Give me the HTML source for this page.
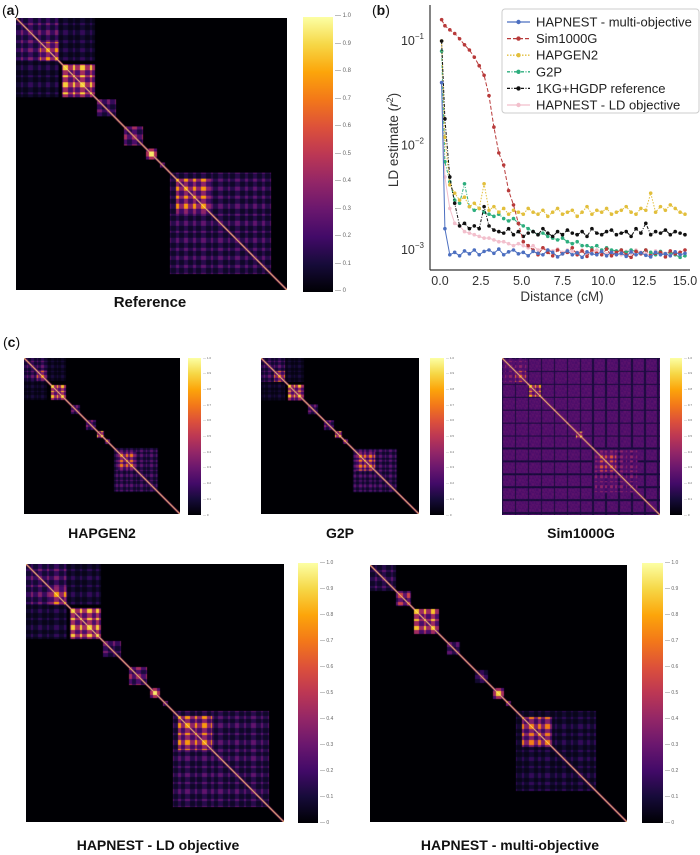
<!DOCTYPE html>
<html><head><meta charset="utf-8">
<style>
body{margin:0;background:#fff;}
#root{position:relative;width:700px;height:855px;overflow:hidden;font-family:"Liberation Sans",sans-serif;background:#fff;}
.lbl{position:absolute;font-weight:bold;color:#111;text-align:center;white-space:nowrap;transform:translateX(-50%);}
.pl{position:absolute;font-size:14px;color:#111;}
canvas{position:absolute;}
.cb{position:absolute;}
.ct{position:absolute;font-size:6px;color:#666;}
</style></head>
<body>
<div id="root">
<div class="pl" style="left:2px;top:2px">(<b>a</b>)</div>
<div class="pl" style="left:372px;top:2px">(<b>b</b>)</div>
<div class="pl" style="left:3px;top:334px">(<b>c</b>)</div>

<div class="lbl" style="left:150px;top:294px;font-size:15px">Reference</div>
<div class="lbl" style="left:102px;top:525px;font-size:14px">HAPGEN2</div>
<div class="lbl" style="left:340px;top:525px;font-size:14px">G2P</div>
<div class="lbl" style="left:581px;top:525px;font-size:14px">Sim1000G</div>
<div class="lbl" style="left:158px;top:837px;font-size:14px">HAPNEST - LD objective</div>
<div class="lbl" style="left:510px;top:837px;font-size:14px">HAPNEST - multi-objective</div>

<svg id="ldchart" width="700" height="320" style="position:absolute;left:0;top:0"></svg>
</div>
<script>
// ---------- Panel (b) data ----------
const dist = [0.1,0.3,0.6,0.9,1.2,1.5,1.8,2.1,2.4,2.7,3.0,3.3,3.6,3.9,4.2,4.5,4.8,5.1,5.4,5.7,6.0,6.3,6.6,6.9,7.2,7.5,7.8,8.1,8.4,8.7,9.0,9.3,9.6,9.9,10.2,10.5,10.8,11.1,11.4,11.7,12.0,12.3,12.6,12.9,13.2,13.5,13.8,14.1,14.4,14.7,15.0];
// values in units of 1e-3
const multiVals = [40,1.6,0.9,0.95,0.88,0.98,0.92,1.0,0.9,0.97,1.0,0.93,1.02,0.9,0.96,1.0,0.92,0.95,0.88,0.97,0.93,0.9,1.0,0.95,0.86,0.92,0.98,0.9,0.94,0.85,0.96,0.92,0.9,0.97,0.88,0.95,0.9,0.93,0.87,0.96,0.9,0.94,0.89,0.86,0.95,0.9,0.92,0.88,0.96,0.9,0.93];
const simVals = [160,140,128,118,105,92,82,70,58,47,30,15,8.5,6.5,3.7,2.7,1.8,1.2,1.1,1.0,0.9,1.05,0.95,0.88,1.0,0.92,0.95,1.05,0.9,0.98,0.87,1.0,0.93,0.9,1.02,0.88,0.95,1.0,0.9,0.85,0.97,0.92,1.0,0.88,0.93,0.95,0.86,0.98,0.92,0.95,1.0];
const hapgenVals = [100,12,4.2,3.5,3.0,3.2,2.6,2.8,2.5,4.3,2.4,2.6,2.3,2.5,2.2,2.4,2.3,2.2,2.5,2.3,2.2,2.4,2.1,2.3,2.5,2.2,2.3,2.4,2.1,2.3,2.6,2.2,2.4,2.3,2.5,2.2,2.3,2.4,2.6,2.3,2.2,2.5,2.4,3.5,2.3,2.6,2.4,2.7,2.5,2.3,2.2];
const g2pVals = [80,7,4.5,3.0,2.8,4.3,2.6,2.4,2.5,2.3,2.2,2.1,2.2,2.0,1.9,2.0,1.8,1.7,1.6,1.5,1.4,1.45,1.35,1.3,1.25,1.3,1.2,1.15,1.2,1.1,1.1,1.05,1.1,1.0,1.05,1.0,0.98,1.0,0.95,1.0,0.97,0.93,1.0,0.95,0.9,0.97,0.92,0.95,0.9,0.85,0.88];
const kgVals = [100,18,5,2.8,1.7,1.8,1.6,1.7,1.6,2.6,1.7,1.55,1.5,1.45,1.6,1.4,1.5,1.35,1.45,1.5,1.4,1.6,1.45,1.35,1.5,1.4,1.55,1.45,1.4,1.5,1.35,1.6,1.45,1.4,1.5,1.55,1.4,1.45,1.5,1.35,1.6,1.45,1.8,1.4,1.5,1.45,1.55,1.4,1.5,1.45,1.4];
const ldVals = [40,5,2.5,1.8,1.7,1.5,1.45,1.4,1.35,1.3,1.3,1.25,1.2,1.2,1.15,1.1,1.15,1.1,1.05,1.1,1.0,1.05,1.0,0.98,1.02,0.95,1.0,0.97,0.95,1.0,0.93,0.97,1.0,0.95,0.92,0.98,0.95,0.9,0.97,0.93,1.0,0.95,0.92,0.9,0.98,0.95,0.93,0.97,0.92,0.95,1.0];
const seriesNames = ["HAPNEST - multi-objective","Sim1000G","HAPGEN2","G2P","1KG+HGDP reference","HAPNEST - LD objective"];
const xTicks = [0,2.5,5,7.5,10,12.5,15];
const xTickLabels = ["0.0","2.5","5.0","7.5","10.0","12.5","15.0"];
const yTicks = [-1,-2,-3];

const NS="http://www.w3.org/2000/svg";
const svg=document.getElementById('ldchart');
function mk(t,a){const e=document.createElementNS(NS,t);for(const k in a)e.setAttribute(k,a[k]);return e;}
function xs(v){return 440+v*(245/15);}
function ys(v1e3){return 250-(Math.log10(v1e3*1e-3)+3)*104.5;}

let e=mk('line',{x1:430,y1:5,x2:430,y2:270,stroke:'#333','stroke-width':1.2});
svg.appendChild(e);
e=mk('line',{x1:430,y1:270,x2:690,y2:270,stroke:'#333','stroke-width':1.2});
svg.appendChild(e);
xTicks.forEach((t,i)=>{
  const tx=mk('text',{x:xs(t),y:285,'font-size':12.5,'text-anchor':'middle',fill:'#333','font-family':'Liberation Sans'});
  tx.textContent=xTickLabels[i];
  svg.appendChild(tx);
});
yTicks.forEach(p=>{
  const y=ys(Math.pow(10,p+3));
  const tx=mk('text',{x:424,y:y+4,'font-size':12.5,'text-anchor':'end',fill:'#333','font-family':'Liberation Sans'});
  tx.innerHTML='10<tspan dy="-6" font-size="8">\u2212'+(-p)+'</tspan>';
  svg.appendChild(tx);
});
e=mk('text',{x:0,y:0,'font-size':13.5,'text-anchor':'middle',fill:'#333','font-family':'Liberation Sans',transform:'translate(398,140) rotate(-90)'});
e.innerHTML='LD estimate (<tspan font-style="italic">r</tspan><tspan dy="-5" font-size="9">2</tspan><tspan dy="5">)</tspan>';
svg.appendChild(e);
e=mk('text',{x:562,y:301,'font-size':13.5,'text-anchor':'middle',fill:'#333','font-family':'Liberation Sans'});
e.textContent='Distance (cM)';
svg.appendChild(e);

const seriesData=[multiVals,simVals,hapgenVals,g2pVals,kgVals,ldVals];
const styles=[
 {c:'#4c6fc0',d:'none'},{c:'#b83a3a',d:'4,2'},{c:'#e2bf3c',d:'1.5,1.5'},
 {c:'#2eae7e',d:'3,1.5,1,1.5'},{c:'#111',d:'3,1.5,1,1.5'},{c:'#f2bfcc',d:'none'}];
const order=[5,3,2,4,1,0];
order.forEach(si=>{
  const vals=seriesData[si],st=styles[si];
  const g=mk('g',{});
  
  
  const pts=vals.map((v,i)=>xs(dist[i]).toFixed(1)+','+ys(v).toFixed(1)).join(' ');
  g.appendChild(mk('polyline',{points:pts,fill:'none',stroke:st.c,'stroke-width':1,'stroke-dasharray':st.d}));
  vals.forEach((v,i)=>{
    const c=mk('circle',{cx:xs(dist[i]),cy:ys(v),r:1.8,fill:st.c});
    
    g.appendChild(c);
  });
  svg.appendChild(g);
});
// legend
const lg=mk('g',{});
lg.appendChild(mk('rect',{x:502,y:9,width:197,height:104,rx:3,fill:'#fff','fill-opacity':0.92,stroke:'#ccc'}));
seriesNames.forEach((n,i)=>{
  const y=22+i*16.6,st=styles[i];
  const row=mk('g',{});
  row.appendChild(mk('line',{x1:507,y1:y,x2:530,y2:y,stroke:st.c,'stroke-width':1.3,'stroke-dasharray':st.d}));
  row.appendChild(mk('circle',{cx:518.5,cy:y,r:2.2,fill:st.c}));
  const t=mk('text',{x:536,y:y+4.5,'font-size':13,fill:'#222','font-family':'Liberation Sans'});t.textContent=n;
  row.appendChild(t);lg.appendChild(row);
});
svg.appendChild(lg);

// ---------- Heatmaps ----------
const infernoStops=[[0,0,0,4],[0.1,22,11,57],[0.2,66,10,104],[0.3,106,23,110],[0.4,147,38,103],[0.5,188,55,84],[0.6,221,81,58],[0.7,243,120,25],[0.8,252,165,10],[0.9,246,215,70],[1,252,255,164]];
function inferno(v){v=Math.max(0,Math.min(1,v));for(let k=1;k<infernoStops.length;k++){const a=infernoStops[k-1],b=infernoStops[k];if(v<=b[0]){const t=(v-a[0])/(b[0]-a[0]);return [a[1]+t*(b[1]-a[1]),a[2]+t*(b[2]-a[2]),a[3]+t*(b[3]-a[3])].map(Math.round);}}return [252,255,164];}

// blocks: [rowStart,rowEnd,colStart,colEnd,value] in fractions
const refBlocks=[[0,0.16,0,0.16,0.32],[0,0.16,0.16,0.29,0.15],[0.16,0.29,0,0.16,0.15],[0.09,0.16,0.09,0.16,0.72],[0.17,0.29,0.17,0.29,0.8],[0.30,0.36,0.30,0.37,0.3],[0.40,0.47,0.40,0.47,0.4],[0.48,0.52,0.48,0.52,0.85],[0.53,0.55,0.53,0.55,0.6],[0.57,0.94,0.57,0.94,0.25],[0.59,0.72,0.59,0.72,0.7]];
const hapgenBlocks=[[0,0.15,0,0.15,0.28],[0,0.15,0.15,0.27,0.1],[0.15,0.27,0,0.15,0.1],[0.08,0.15,0.08,0.15,0.65],[0.17,0.27,0.17,0.27,0.78],[0.30,0.36,0.30,0.36,0.3],[0.40,0.46,0.40,0.46,0.35],[0.47,0.51,0.47,0.51,0.8],[0.52,0.55,0.52,0.55,0.6],[0.58,0.86,0.58,0.86,0.25],[0.60,0.72,0.60,0.72,0.65]];
const g2pBlocks=hapgenBlocks;
const simBlocks=[[0,0.16,0,0.16,0.35],[0.08,0.15,0.08,0.15,0.6],[0.17,0.25,0.17,0.25,0.75],[0.47,0.51,0.47,0.51,0.8],[0.58,0.86,0.58,0.86,0.35],[0.60,0.72,0.60,0.72,0.55]];
const ldBlocks=refBlocks;
const multiBlocks=[[0,0.10,0,0.10,0.25],[0.10,0.16,0.10,0.16,0.5],[0.17,0.27,0.17,0.27,0.78],[0.30,0.35,0.30,0.35,0.25],[0.41,0.46,0.41,0.46,0.3],[0.48,0.52,0.48,0.52,0.8],[0.53,0.55,0.53,0.55,0.55],[0.57,0.88,0.57,0.88,0.15],[0.59,0.71,0.59,0.71,0.65]];
const simBackground=0.27;

function drawHeat(name,x,y,w,h,blocks,bg,cbx,cbw,cby,cbh,tickSize){
  const N=Math.round(w),G=110;
  const cv=document.createElement('canvas');cv.width=N;cv.height=N;
  cv.style.left=x+'px';cv.style.top=y+'px';cv.style.width=w+'px';cv.style.height=h+'px';
  
  
  const ctx=cv.getContext('2d');const img=ctx.createImageData(N,N);
  for(let pi=0;pi<N;pi++)for(let pj=0;pj<N;pj++){
    const r=(pi+0.5)/N,c=(pj+0.5)/N;
    const i=Math.floor(r*G),j=Math.floor(c*G);
    const a=((i*37+11)%7<3)?1:0.5, b=((j*37+11)%7<3)?1:0.5;
    let v=bg*(((i*13)%9===0||(j*13)%9===0)?0.45:1)*(0.8+0.2*((i*5+j*3)%7)/6);
    for(const bl of blocks){if(r>=bl[0]&&r<bl[1]&&c>=bl[2]&&c<bl[3]){v=Math.max(v,bl[4]*a*b*1.1);}}
    const d=Math.abs(pi-pj);
    if(d===0)v=0.95;else if(d===1)v=Math.max(v,0.4);
    const col=inferno(v),p=(pi*N+pj)*4;
    img.data[p]=col[0];img.data[p+1]=col[1];img.data[p+2]=col[2];img.data[p+3]=255;
  }
  ctx.putImageData(img,0,0);
  document.getElementById('root').appendChild(cv);
  const cb=document.createElement('div');cb.className='cb';
  
  
  const stops=infernoStops.map(s=>'rgb('+s[1]+','+s[2]+','+s[3]+') '+(s[0]*100)+'%').join(',');
  cb.style.cssText='left:'+cbx+'px;top:'+cby+'px;width:'+cbw+'px;height:'+cbh+'px;background:linear-gradient(to top,'+stops+');';
  document.getElementById('root').appendChild(cb);
  for(let k=0;k<=10;k++){
    const t=document.createElement('div');t.className='ct';
    
    
    t.style.left=(cbx+cbw+2)+'px';t.style.top=(cby+cbh-k*cbh/10-tickSize/2-1)+'px';t.style.fontSize=tickSize+'px';
    t.textContent='\u2014 '+(k===0?'0':k===10?'1.0':(k/10).toFixed(1));
    document.getElementById('root').appendChild(t);
  }
}
drawHeat('reference',16,18,271,272,refBlocks,0,303,30,17,275,6);
drawHeat('hapgen2',24,358,156,156,hapgenBlocks,0,188,13,358,157,3);
drawHeat('g2p',261,358,158,156,g2pBlocks,0,430,14,358,157,3);
drawHeat('sim1000g',502,358,158,157,simBlocks,simBackground,670,12,358,157,3);
drawHeat('hapnest-ld',26,564,258,258,ldBlocks,0,298,20,563,260,5);
drawHeat('hapnest-multi',370,565,257,257,multiBlocks,0,642,21,563,260,5);
</script>
</body></html>
